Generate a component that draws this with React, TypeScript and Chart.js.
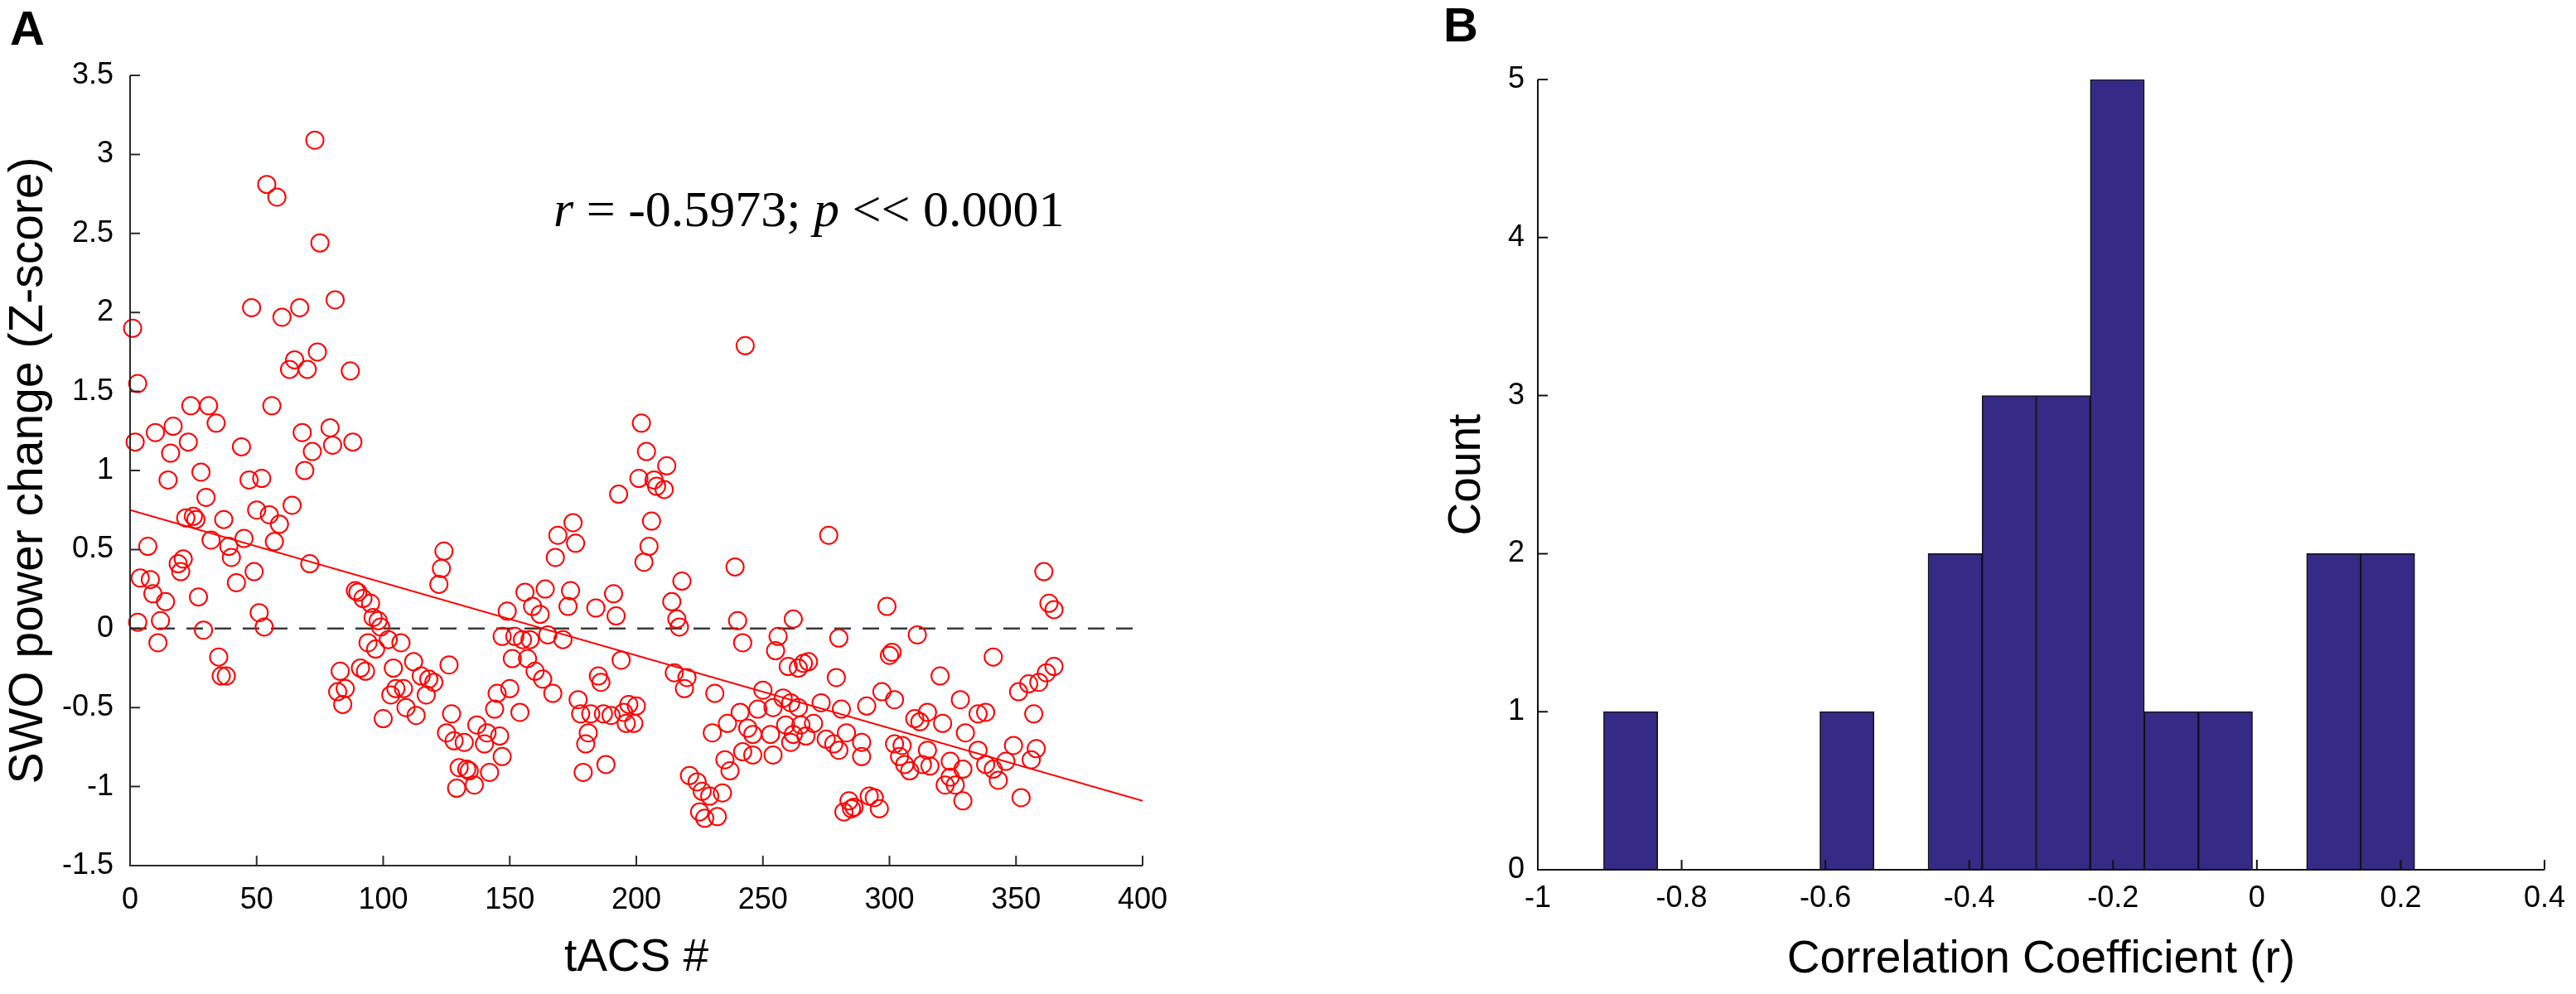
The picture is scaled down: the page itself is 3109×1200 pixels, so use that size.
import { useEffect, useRef } from "react";
import { Chart, registerables } from "chart.js";

Chart.register(...registerables);

const SANS = 'Arial, "Liberation Sans", Helvetica, sans-serif';
const SERIF = '"Times New Roman", "Liberation Serif", Times, serif';

// Panel A: SWO power change (z-score) per tACS trial
const trialX = [
  1, 2, 3, 3, 4, 7, 8, 9, 10, 11,
  12, 14, 15, 16, 17, 19, 20, 21, 22, 23,
  24, 25, 26, 27, 28, 29, 30, 31, 32, 34,
  35, 36, 37, 38, 39, 40, 42, 44, 45, 47,
  48, 49, 50, 51, 52, 53, 54, 55, 56, 57,
  58, 59, 60, 63, 64, 65, 67, 68, 69, 70,
  71, 72, 73, 74, 75, 79, 80, 81, 82, 83,
  84, 85, 87, 88, 89, 90, 91, 92, 93, 94,
  95, 96, 97, 98, 99, 100, 102, 103, 104, 105,
  107, 108, 109, 112, 113, 115, 117, 118, 120, 122,
  123, 124, 125, 126, 127, 128, 129, 130, 132, 133,
  134, 136, 137, 140, 141, 142, 144, 145, 146, 147,
  147, 149, 150, 151, 152, 154, 155, 156, 157, 158,
  159, 160, 162, 163, 164, 165, 167, 168, 169, 171,
  173, 174, 175, 176, 177, 178, 179, 180, 181, 182,
  184, 185, 186, 187, 188, 190, 191, 192, 193, 194,
  195, 196, 197, 199, 200, 201, 202, 203, 204, 205,
  206, 207, 208, 211, 212, 214, 215, 216, 217, 218,
  219, 220, 221, 224, 225, 226, 227, 229, 230, 231,
  232, 234, 235, 236, 237, 239, 240, 241, 242, 242,
  243, 244, 246, 246, 248, 250, 253, 254, 254, 255,
  256, 258, 259, 260, 261, 261, 262, 262, 264, 265,
  266, 264, 267, 268, 270, 273, 275, 276, 278, 279,
  280, 280, 281, 282, 283, 284, 285, 286, 289, 289,
  291, 292, 294, 296, 297, 299, 300, 301, 302, 302,
  304, 305, 306, 308, 310, 311, 312, 313, 315, 315,
  316, 320, 321, 322, 324, 324, 326, 328, 329, 329,
  330, 335, 335, 338, 338, 341, 341, 343, 346, 349,
  351, 352, 355, 356, 357, 358, 359, 361, 362, 363,
  365, 365,
];
const swoZ = [
  1.9, 1.18, 1.55, 0.04, 0.32, 0.52, 0.31, 0.22, 1.24, -0.09,
  0.05, 0.17, 0.94, 1.11, 1.28, 0.41, 0.36, 0.44, 0.7, 1.18,
  1.41, 0.71, 0.69, 0.2, 0.99, -0.01, 0.83, 1.41, 0.56, 1.3,
  -0.18, -0.3, 0.69, -0.3, 0.52, 0.45, 0.29, 1.15, 0.57, 0.94,
  2.03, 0.36, 0.75, 0.1, 0.95, 0.01, 2.81, 0.72, 1.41, 0.55,
  2.73, 0.66, 1.97, 1.64, 0.78, 1.7, 2.03, 1.24, 1.0, 1.64,
  0.41, 1.12, 3.09, 1.75, 2.44, 1.27, 1.16, 2.08, -0.4, -0.27,
  -0.48, -0.38, 1.63, 1.18, 0.24, 0.23, -0.25, 0.19, -0.27, -0.09,
  0.16, 0.07, -0.13, 0.05, 0.01, -0.57, -0.07, -0.42, -0.25, -0.38,
  -0.09, -0.38, -0.5, -0.21, -0.55, -0.3, -0.42, -0.32, -0.34, 0.28,
  0.38, 0.49, -0.66, -0.23, -0.54, -0.71, -1.01, -0.88, -0.72, -0.89,
  -0.9, -0.99, -0.61, -0.73, -0.66, -0.91, -0.51, -0.41, -0.68, -0.05,
  -0.81, 0.11, -0.38, -0.19, -0.05, -0.53, -0.07, 0.23, -0.19, -0.07,
  0.14, -0.27, 0.09, -0.32, 0.25, -0.04, -0.41, 0.45, 0.59, -0.07,
  0.14, 0.24, 0.67, 0.54, -0.45, -0.54, -0.91, -0.73, -0.66, -0.54,
  0.13, -0.3, -0.34, -0.54, -0.86, -0.55, 0.22, 0.08, 0.85, -0.2,
  -0.53, -0.6, -0.48, -0.6, -0.49, 0.95, 1.3, 0.42, 1.12, 0.52,
  0.68, 0.94, 0.9, 0.88, 1.03, 0.17, -0.28, 0.06, 0.01, 0.3,
  -0.38, -0.31, -0.93, -0.97, -1.16, -1.03, -1.2, -1.06, -0.66, -0.41,
  -1.19, -1.04, -0.83, -0.6, -0.9, 0.39, 0.05, -0.53, -0.09, -0.78,
  1.79, -0.63, -0.67, -0.8, -0.51, -0.39, -0.67, -0.5, -0.8, -0.14,
  -0.05, -0.44, -0.61, -0.24, -0.47, -0.72, 0.06, -0.67, -0.25, -0.61,
  -0.22, -0.5, -0.68, -0.21, -0.6, -0.47, -0.7, 0.59, -0.73, -0.31,
  -0.06, -0.77, -0.51, -1.16, -0.66, -1.09, -1.14, -1.13, -0.72, -0.81,
  -0.49, -1.06, -1.07, -1.14, -0.4, 0.14, -0.17, -0.15, -0.45, -0.73,
  -0.81, -0.74, -0.86, -0.9, -0.57, -0.04, -0.59, -0.86, -0.53, -0.77,
  -0.87, -0.3, -0.6, -0.99, -0.84, -0.94, -0.99, -0.45, -0.89, -1.09,
  -0.66, -0.54, -0.77, -0.53, -0.86, -0.18, -0.89, -0.96, -0.84, -0.74,
  -0.4, -1.07, -0.35, -0.83, -0.54, -0.76, -0.34, 0.36, -0.28, 0.16,
  -0.24, 0.12,
];
// least-squares line as drawn in the figure (end points)
const fitX = [0, 400];
const fitY = [0.75, -1.09];
const zeroX = [0, 400];
const zeroY = [0, 0];
const xTicksA = [0, 50, 100, 150, 200, 250, 300, 350, 400];
const yTicksA = [-1.5, -1, -0.5, 0, 0.5, 1, 1.5, 2, 2.5, 3, 3.5];

// Panel B: histogram of correlation coefficients
const binEdges = [
  -0.9085, -0.8333, -0.7581, -0.6829, -0.6077, -0.5325, -0.4573, -0.3821,
  -0.3069, -0.2317, -0.1565, -0.0813, -0.0061, 0.0691, 0.1443, 0.2195,
];
const binCounts = [1, 0, 0, 0, 1, 0, 2, 3, 3, 5, 1, 1, 0, 2, 2];
const xTicksB = [-1, -0.8, -0.6, -0.4, -0.2, 0, 0.2, 0.4];
const yTicksB = [0, 1, 2, 3, 4, 5];

// MATLAB-like axes: left + bottom line, ticks pointing inwards
function axesPlugin(xTicks: number[], yTicks: number[], color: string, lw: number, len: number) {
  return {
    id: "matlabAxes",
    afterDatasetsDraw(chart: any) {
      const { ctx, chartArea: a, scales } = chart;
      ctx.save();
      ctx.strokeStyle = color;
      ctx.lineWidth = lw;
      ctx.beginPath();
      ctx.moveTo(a.left, a.top);
      ctx.lineTo(a.left, a.bottom);
      ctx.lineTo(a.right, a.bottom);
      xTicks.forEach((v) => {
        const px = scales.x.getPixelForValue(v);
        ctx.moveTo(px, a.bottom);
        ctx.lineTo(px, a.bottom - len);
      });
      yTicks.forEach((v) => {
        const py = scales.y.getPixelForValue(v);
        ctx.moveTo(a.left, py);
        ctx.lineTo(a.left + len, py);
      });
      ctx.stroke();
      ctx.restore();
    },
  };
}

function letterPlugin(letter: string, x: number, y: number) {
  return {
    id: "panelLetter",
    afterDraw(chart: any) {
      const ctx = chart.ctx;
      ctx.save();
      ctx.fillStyle = "#000";
      ctx.font = `bold 58px ${SANS}`;
      ctx.textBaseline = "alphabetic";
      ctx.textAlign = "left";
      ctx.fillText(letter, x, y);
      ctx.restore();
    },
  };
}

const statSegments: [string, boolean][] = [
  ["r", true],
  [" = -0.5973; ", false],
  ["p", true],
  [" << 0.0001", false],
];

const statPlugin = {
  id: "statText",
  afterDraw(chart: any) {
    const { ctx, scales } = chart;
    let x = scales.x.getPixelForValue(167.3);
    const y = scales.y.getPixelForValue(2.546);
    ctx.save();
    ctx.fillStyle = "#000";
    ctx.textBaseline = "alphabetic";
    ctx.textAlign = "left";
    statSegments.forEach(([t, it]) => {
      ctx.font = `${it ? "italic " : ""}62px ${SERIF}`;
      ctx.fillText(t, x, y);
      x += ctx.measureText(t).width;
    });
    ctx.restore();
  },
};

const tickFont = { family: SANS, size: 36 };
const titleFont = { family: SANS, size: 55 };
const fmt = (v: any) => String(Number(Number(v).toFixed(1)));

export default function App() {
  const refA = useRef<HTMLCanvasElement>(null);
  const refB = useRef<HTMLCanvasElement>(null);

  useEffect(() => {
    if (!refA.current || !refB.current) return;

    const chartA = new Chart(refA.current, {
      type: "scatter",
      data: {
        datasets: [
          {
            data: trialX.map((x, i) => ({ x, y: swoZ[i] })),
            pointStyle: "circle",
            pointRadius: 10.5,
            pointBorderWidth: 2,
            pointBorderColor: "#ff0000",
            pointBackgroundColor: "rgba(0,0,0,0)",
            clip: false,
          } as any,
          {
            data: fitX.map((x, i) => ({ x, y: fitY[i] })),
            showLine: true,
            borderColor: "#ff0000",
            borderWidth: 2,
            pointRadius: 0,
          },
          {
            data: zeroX.map((x, i) => ({ x, y: zeroY[i] })),
            showLine: true,
            borderColor: "#3a3a3a",
            borderWidth: 2.5,
            borderDash: [20, 14],
            pointRadius: 0,
          },
        ],
      },
      options: {
        animation: false,
        responsive: false,
        maintainAspectRatio: false,
        events: [],
        layout: { padding: { left: 0, right: 181, top: 91, bottom: 0 } },
        plugins: { legend: { display: false }, tooltip: { enabled: false } },
        scales: {
          x: {
            type: "linear",
            min: 0,
            max: 400,
            afterBuildTicks: (s: any) => {
              s.ticks = xTicksA.map((value) => ({ value }));
            },
            afterFit: (s: any) => {
              s.height = 155;
            },
            grid: { display: false, drawTicks: false },
            border: { display: false },
            ticks: { font: tickFont, color: "#000", padding: 20, maxRotation: 0, autoSkip: false, callback: fmt },
            title: {
              display: true,
              text: "tACS #",
              font: titleFont,
              color: "#000",
              padding: { top: 0, bottom: 10 },
            },
          },
          y: {
            type: "linear",
            min: -1.5,
            max: 3.5,
            afterBuildTicks: (s: any) => {
              s.ticks = yTicksA.map((value) => ({ value }));
            },
            afterFit: (s: any) => {
              s.width = 157;
            },
            grid: { display: false, drawTicks: false },
            border: { display: false },
            ticks: { font: tickFont, color: "#000", padding: 20, autoSkip: false, callback: fmt },
            title: {
              display: true,
              text: "SWO power change (Z-score)",
              font: { family: SANS, size: 57 },
              color: "#000",
              padding: { top: 1, bottom: 0 },
            },
          },
        },
      },
      plugins: [axesPlugin(xTicksA, yTicksA, "#2b2b2b", 2, 12), statPlugin, letterPlugin("A", 12, 54)],
    } as any);

    const chartB = new Chart(refB.current, {
      type: "bar",
      data: {
        datasets: [
          {
            data: binCounts.map((c, i) => ({ x: (binEdges[i] + binEdges[i + 1]) / 2, y: c })),
            backgroundColor: "#352a86",
            borderColor: "#111111",
            borderWidth: 1.5,
            barPercentage: 1,
            categoryPercentage: 1,
            grouped: false,
          } as any,
        ],
      },
      options: {
        animation: false,
        responsive: false,
        maintainAspectRatio: false,
        events: [],
        layout: { padding: { left: 0, right: 34, top: 96, bottom: 0 } },
        plugins: { legend: { display: false }, tooltip: { enabled: false } },
        scales: {
          x: {
            type: "linear",
            min: -1,
            max: 0.4,
            offset: false,
            afterBuildTicks: (s: any) => {
              s.ticks = xTicksB.map((value) => ({ value }));
            },
            afterFit: (s: any) => {
              s.height = 150;
            },
            grid: { display: false, drawTicks: false, offset: false },
            border: { display: false },
            ticks: { font: tickFont, color: "#000", padding: 13, maxRotation: 0, autoSkip: false, callback: fmt },
            title: {
              display: true,
              text: "Correlation Coefficient (r)",
              font: titleFont,
              color: "#000",
              padding: { top: 0, bottom: 8 },
            },
          },
          y: {
            type: "linear",
            min: 0,
            max: 5,
            afterBuildTicks: (s: any) => {
              s.ticks = yTicksB.map((value) => ({ value }));
            },
            afterFit: (s: any) => {
              s.width = 156;
            },
            grid: { display: false, drawTicks: false },
            border: { display: false },
            ticks: { font: tickFont, color: "#000", padding: 16, autoSkip: false, callback: fmt },
            title: {
              display: true,
              text: "Count",
              font: titleFont,
              color: "#000",
              padding: { top: 38, bottom: 0 },
            },
          },
        },
      },
      plugins: [axesPlugin(xTicksB, yTicksB, "#111111", 2, 12), letterPlugin("B", 42, 50)],
    } as any);

    return () => {
      chartA.destroy();
      chartB.destroy();
    };
  }, []);

  return (
    <div style={{ position: "absolute", left: 0, top: 0, width: 3109, height: 1200, background: "#fff" }}>
      <canvas
        ref={refA}
        width={1560}
        height={1200}
        style={{ position: "absolute", left: 0, top: 0, width: 1560, height: 1200 }}
      />
      <canvas
        ref={refB}
        width={1409}
        height={1200}
        style={{ position: "absolute", left: 1700, top: 0, width: 1409, height: 1200 }}
      />
    </div>
  );
}
